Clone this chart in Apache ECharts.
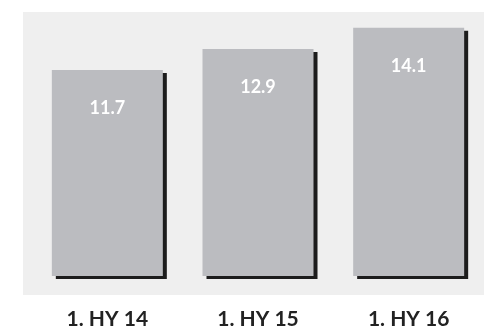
<!DOCTYPE html>
<html>
<head>
<meta charset="utf-8">
<script src="https://cdn.jsdelivr.net/npm/echarts@6/dist/echarts.min.js"></script>
<style>
  html, body { margin: 0; padding: 0; background: #ffffff; }
  #chart { width: 484px; height: 330px; }
</style>
</head>
<body>
<div id="chart"></div>
<script>
// Half-year figures
const categories = ['1. HY 14', '1. HY 15', '1. HY 16'];
const values = [11.7, 12.9, 14.1];

const chart = echarts.init(document.getElementById('chart'), null, { renderer: 'canvas' });

chart.setOption({
  animation: false,
  backgroundColor: '#ffffff',
  graphic: [{
    type: 'rect',
    z: -10,
    silent: true,
    shape: { x: 23, y: 12, width: 461, height: 283 },
    style: { fill: '#efefef' }
  }],
  grid: { left: 32, right: -5, top: 12, bottom: 51, containLabel: false },
  xAxis: {
    type: 'category',
    data: categories,
    axisLine: { show: false },
    axisTick: { show: false },
    axisLabel: {
      margin: 33,
      fontFamily: 'Lato',
      fontWeight: 'bold',
      fontSize: 21,
      color: '#222222'
    }
  },
  yAxis: {
    type: 'value',
    min: 0,
    max: 15,
    show: false,
    splitLine: { show: false }
  },
  series: [{
    type: 'bar',
    data: values,
    barWidth: 111,
    itemStyle: {
      color: '#bbbcc0',
      shadowColor: '#1c1c1c',
      shadowBlur: 0,
      shadowOffsetX: 4,
      shadowOffsetY: 3
    },
    label: {
      show: true,
      position: 'insideTop',
      distance: 29,
      fontFamily: 'Lato',
      fontWeight: 'bold',
      fontSize: 18,
      color: '#ffffff',
      formatter: p => p.value.toFixed(1)
    }
  }]
});
</script>
</body>
</html>
